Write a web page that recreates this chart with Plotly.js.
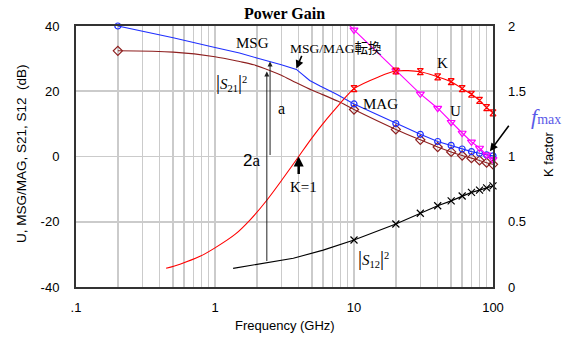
<!DOCTYPE html>
<html>
<head>
<meta charset="utf-8">
<script src="https://cdn.plot.ly/plotly-3.0.1.min.js"></script>
<style>html,body{margin:0;padding:0;background:#fff;}#chart{width:568px;height:338px;}</style>
</head>
<body>
<div id="chart"></div>
<script>
// ---- data (frequency in GHz) ----
const freqMSG = [0.2, 0.5, 1, 1.5, 2, 2.5, 3, 3.85, 4.8, 5.7, 7.5, 10, 20, 30, 40, 50, 60, 70, 80, 90, 100];
const msgMag  = [40.0, 36.4, 33.4, 31.7, 30.2, 29.1, 28.1, 26.7, 23.3, 21.6, 19.1, 16.1, 10.1, 6.8, 4.6, 3.4, 2.3, 1.5, 1.0, 0.5, 0.2];

const freqS21 = [0.2, 0.5, 1, 1.5, 1.9, 2.5, 3, 3.85, 5, 5.7, 7.7, 10, 20, 30, 40, 50, 60, 70, 80, 90, 100];
const s21     = [32.4, 32.0, 30.6, 29.1, 28.1, 26.3, 24.9, 22.6, 20.3, 19.3, 16.9, 14.4, 8.3, 5.1, 2.9, 1.4, 0.3, -0.5, -1.2, -1.9, -2.4];

const freqK   = [0.445, 0.56, 0.78, 1, 1.4, 1.79, 2.36, 3.1, 4, 5, 6.4, 7.7, 8.8, 10, 15, 20, 30, 40, 50, 60, 70, 80, 90, 100];
const kFactor = [0.143, 0.175, 0.235, 0.30, 0.405, 0.515, 0.665, 0.835, 1.0, 1.145, 1.29, 1.39, 1.46, 1.52, 1.61, 1.655, 1.65, 1.61, 1.573, 1.52, 1.477, 1.43, 1.375, 1.335];

const freqU   = [8.5, 10, 20, 30, 40, 50, 60, 70, 80, 90, 100];
const uGain   = [41.7, 38.8, 26.3, 19.2, 14.8, 10.5, 7.2, 4.5, 2.6, 0.5, -0.9];

const freqS12 = [1.35, 2.5, 3.66, 6, 10, 20, 30, 40, 50, 60, 70, 80, 90, 100];
const s12     = [-34.3, -32.3, -31.2, -28.7, -25.6, -20.7, -17.4, -15.1, -13.6, -12.1, -11.0, -10.3, -9.6, -9.0];

const markedFreqs = [0.2, 10, 20, 30, 40, 50, 60, 70, 80, 90, 100];

const xTickVals = [0.1, 1, 10, 100];
const xTickText = ['.1', '1', '10', '100'];
const yTickVals = [-40, -20, 0, 20, 40];
const yTickText = ['-40', '-20', '0', '20', '40'];
const y2TickVals = [0, 0.5, 1, 1.5, 2];
const y2TickText = ['0', '0.5', '1', '1.5', '2'];

// ---- helpers ----
function pick(fs, vs) {
  const x = [], y = [];
  fs.forEach((f, i) => { if (markedFreqs.some(m => Math.abs(m - f) < 1e-9)) { x.push(f); y.push(vs[i]); } });
  return {x, y};
}
function interp(fs, vs, f) {
  const lf = Math.log10(f);
  for (let i = 0; i < fs.length - 1; i++) {
    const a = Math.log10(fs[i]), b = Math.log10(fs[i + 1]);
    if (lf >= a && lf <= b) return vs[i] + (vs[i + 1] - vs[i]) * (lf - a) / (b - a);
  }
  return vs[vs.length - 1];
}
const L = 76, T = 26, W = 417, H = 261;
function P(px, py) { return {xref: 'paper', yref: 'paper', x: (px - L) / W, y: (T + H - py) / H, xanchor: 'center', yanchor: 'middle'}; }

const cMSG = '#1f2fff', cS21 = '#8e1f1f', cK = '#ff0000', cU = '#ff00ff', cS12 = '#000000';

function lineTrace(x, y, color, yaxis, shape) {
  return {x, y, type: 'scatter', mode: 'lines', line: {color, width: 1.1, shape: shape || 'linear', smoothing: 0.8}, yaxis: yaxis || 'y', hoverinfo: 'skip', showlegend: false};
}
function markTrace(fs, vs, color, symbol, size, yaxis) {
  const m = pick(fs, vs);
  return {x: m.x, y: m.y, type: 'scatter', mode: 'markers', yaxis: yaxis || 'y', cliponaxis: false,
    marker: {color, symbol, size, line: {color, width: 1.2}}, hoverinfo: 'skip', showlegend: false};
}

const traces = [
  lineTrace(freqS12, s12, cS12),
  markTrace(freqS12, s12, cS12, 'x-thin-open', 7),
  lineTrace(freqS21, s21, cS21, 'y', 'spline'),
  markTrace(freqS21, s21, cS21, 'diamond-open', 7),
  lineTrace(freqMSG, msgMag, cMSG),
  markTrace(freqMSG, msgMag, cMSG, 'circle-open', 6),
  lineTrace(freqU, uGain, cU),
  markTrace(freqU, uGain, cU, 'triangle-down-open', 7),
  lineTrace(freqK, kFactor, cK, 'y2', 'spline'),
  markTrace(freqK, kFactor, cK, 'hourglass-open', 6, 'y2')
];

// minor grid positions on the log axis
const minorVals = [];
[0.1, 1, 10].forEach(d => { for (let k = 2; k <= 9; k++) minorVals.push(k * d); });

const serif = 'Liberation Serif, Times New Roman, serif';
const sans = 'Liberation Sans, Arial, sans-serif';
const fA = 2.49, f2A = 2.36, fK1 = 4.0, fKink = 3.85, fMax = 95;

const ann = [
  Object.assign(P(284, 13), {text: '<b>Power Gain</b>', showarrow: false, font: {family: serif, size: 16, color: '#000'}}),
  Object.assign(P(285, 325), {text: 'Frequency (GHz)', showarrow: false, font: {family: sans, size: 13, color: '#000'}}),
  Object.assign(P(21, 154), {text: 'U, MSG/MAG, S21, S12  (dB)', textangle: -90, showarrow: false, font: {family: sans, size: 13.5, color: '#000'}}),
  Object.assign(P(548, 155), {text: 'K factor', textangle: -90, showarrow: false, font: {family: sans, size: 13, color: '#000'}}),
  Object.assign(P(252, 43), {text: 'MSG', showarrow: false, font: {family: serif, size: 15, color: '#000'}}),
  Object.assign(P(336, 47), {text: 'MSG/MAG<span style="font-family:Noto Sans CJK JP">転換</span>', showarrow: false, font: {family: serif, size: 13.5, color: '#000'}}),
  Object.assign(P(231, 82), {text: '<span style="font-size:20px">|</span><i>S</i><sub>21</sub><span style="font-size:20px">|</span><sup>2</sup>', showarrow: false, font: {family: serif, size: 15, color: '#000'}}),
  Object.assign(P(281, 108), {text: 'a', showarrow: false, font: {family: serif, size: 16, color: '#000'}}),
  Object.assign(P(251, 160), {text: '<span style="font-family:Liberation Sans">2</span>a', showarrow: false, font: {family: serif, size: 17, color: '#000'}}),
  Object.assign(P(303, 187), {text: 'K=1', showarrow: false, font: {family: serif, size: 15, color: '#000'}}),
  Object.assign(P(380, 104), {text: 'MAG', showarrow: false, font: {family: serif, size: 15, color: '#000'}}),
  Object.assign(P(442, 63), {text: 'K', showarrow: false, font: {family: serif, size: 15, color: '#000'}}),
  Object.assign(P(455, 111), {text: 'U', showarrow: false, font: {family: serif, size: 15, color: '#000'}}),
  Object.assign(P(546, 116), {text: '<i>f</i><span style="font-size:14px">max</span>', showarrow: false, font: {family: serif, size: 22, color: '#5a5ae8'}}),
  Object.assign(P(373, 258), {text: '<span style="font-size:20px">|</span><i>S</i><sub>12</sub><span style="font-size:20px">|</span><sup>2</sup>', showarrow: false, font: {family: serif, size: 15, color: '#000'}}),
  // arrows
  {xref: 'x', yref: 'y', axref: 'x', ayref: 'y', x: Math.log10(fA), y: interp(freqMSG, msgMag, fA), ax: Math.log10(fA), ay: 0,
   text: '', showarrow: true, arrowhead: 2, arrowsize: 1, arrowwidth: 1, arrowcolor: '#222'},
  {xref: 'x', yref: 'y', axref: 'x', ayref: 'y', x: Math.log10(f2A), y: interp(freqS21, s21, f2A) - 0.6, ax: Math.log10(f2A), ay: interp(freqS12, s12, f2A),
   text: '', showarrow: true, arrowhead: 2, arrowsize: 1, arrowwidth: 1, arrowcolor: '#222'},
  {xref: 'x', yref: 'y2', x: Math.log10(fK1), y: 1, ax: 0, ay: 19, text: '', showarrow: true, arrowhead: 2, arrowsize: 0.8, arrowwidth: 2.5, arrowcolor: '#000'},
  {xref: 'x', yref: 'y', x: Math.log10(fKink), y: interp(freqMSG, msgMag, fKink) + 0.3, ax: 6, ay: -14, text: '', showarrow: true, arrowhead: 2, arrowsize: 1, arrowwidth: 1.6, arrowcolor: '#000'},
  {xref: 'x', yref: 'y', x: Math.log10(fMax), y: 1.6, ax: 20, ay: -27, text: '', showarrow: true, arrowhead: 2, arrowsize: 1, arrowwidth: 1.6, arrowcolor: '#000'}
];

const layout = {
  width: 568, height: 338,
  margin: {l: L, r: 568 - L - W, t: T, b: 338 - T - H, pad: 0},
  paper_bgcolor: '#fff', plot_bgcolor: '#fff',
  showlegend: false,
  xaxis: {type: 'log', range: [-1, 2], tickmode: 'array', tickvals: xTickVals, ticktext: xTickText,
    ticks: '', ticklabelstandoff: 7, tickfont: {family: sans, size: 13, color: '#000'},
    showgrid: true, gridcolor: '#cbcbcb', gridwidth: 1.6,
    minor: {tickmode: 'array', tickvals: minorVals, showgrid: true, gridcolor: '#cbcbcb', gridwidth: 1.6, ticks: ''},
    showline: true, mirror: true, linecolor: '#333', linewidth: 2, zeroline: false, fixedrange: true},
  yaxis: {range: [-40, 40], tickmode: 'array', tickvals: yTickVals, ticktext: yTickText,
    ticks: '', ticklabelstandoff: 12, tickfont: {family: sans, size: 13, color: '#000'},
    showgrid: true, gridcolor: '#cbcbcb', gridwidth: 1.6,
    showline: true, mirror: true, linecolor: '#333', linewidth: 2, zeroline: false, fixedrange: true},
  yaxis2: {range: [0, 2], overlaying: 'y', side: 'right', anchor: 'x', tickmode: 'array', tickvals: y2TickVals, ticktext: y2TickText,
    ticks: '', ticklabelstandoff: 14, tickfont: {family: sans, size: 13, color: '#000'},
    showgrid: false, showline: false, zeroline: false, fixedrange: true},
  annotations: ann
};

Plotly.newPlot('chart', traces, layout, {staticPlot: true, displayModeBar: false});
</script>
</body>
</html>
